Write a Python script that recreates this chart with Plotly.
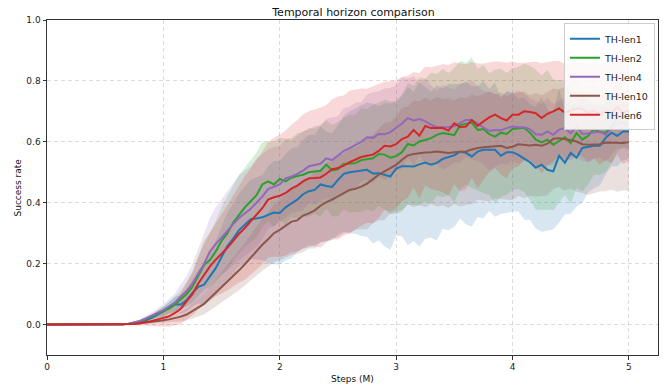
import plotly.graph_objects as go

steps = [round(i * 0.05, 2) for i in range(101)]

series_names = ["TH-len1", "TH-len2", "TH-len4", "TH-len10", "TH-len6"]

len1_mean = [0.0]*14 + [
    0.002, 0.004, 0.008, 0.014, 0.022, 0.032, 0.043, 0.056, 0.066, 0.066,
    0.080, 0.104, 0.124, 0.131, 0.158, 0.185, 0.222, 0.258, 0.282, 0.310,
    0.328, 0.346, 0.348, 0.352, 0.360, 0.368, 0.366, 0.385, 0.398, 0.410,
    0.428, 0.438, 0.442, 0.460, 0.455, 0.452, 0.475, 0.495, 0.500, 0.503,
    0.506, 0.508, 0.496, 0.497, 0.492, 0.486, 0.512, 0.520, 0.520, 0.519,
    0.526, 0.532, 0.525, 0.531, 0.544, 0.550, 0.556, 0.568, 0.564, 0.552,
    0.568, 0.574, 0.574, 0.574, 0.554, 0.566, 0.566, 0.557, 0.545, 0.533,
    0.515, 0.525, 0.508, 0.503, 0.554, 0.531, 0.564, 0.548, 0.580, 0.584,
    0.587, 0.587, 0.613, 0.630, 0.620, 0.634, 0.634]
len1_std = [0.0]*14 + [
    0.001, 0.002, 0.004, 0.006, 0.009, 0.012, 0.016, 0.020, 0.026, 0.030,
    0.036, 0.045, 0.055, 0.065, 0.075, 0.090, 0.100, 0.110, 0.115, 0.120,
    0.125, 0.130, 0.135, 0.140, 0.160, 0.170, 0.170, 0.175, 0.180, 0.172,
    0.178, 0.185, 0.180, 0.190, 0.180, 0.175, 0.180, 0.190, 0.200, 0.205,
    0.215, 0.220, 0.230, 0.220, 0.235, 0.240, 0.220, 0.230, 0.260, 0.245,
    0.270, 0.250, 0.240, 0.255, 0.230, 0.240, 0.235, 0.220, 0.235, 0.230,
    0.215, 0.225, 0.200, 0.220, 0.190, 0.200, 0.195, 0.185, 0.200, 0.190,
    0.200, 0.220, 0.200, 0.190, 0.220, 0.170, 0.200, 0.160, 0.180, 0.150,
    0.140, 0.130, 0.120, 0.110, 0.100, 0.095, 0.090]

len2_mean = [0.0]*14 + [
    0.003, 0.006, 0.011, 0.018, 0.026, 0.034, 0.042, 0.052, 0.066, 0.082,
    0.100, 0.124, 0.160, 0.196, 0.212, 0.240, 0.275, 0.300, 0.335, 0.362,
    0.385, 0.405, 0.425, 0.460, 0.470, 0.460, 0.478, 0.470, 0.482, 0.488,
    0.492, 0.500, 0.503, 0.505, 0.525, 0.506, 0.510, 0.528, 0.528, 0.530,
    0.540, 0.543, 0.546, 0.560, 0.558, 0.548, 0.553, 0.566, 0.593, 0.588,
    0.601, 0.606, 0.612, 0.623, 0.629, 0.626, 0.622, 0.655, 0.660, 0.663,
    0.639, 0.642, 0.625, 0.617, 0.630, 0.626, 0.642, 0.645, 0.646, 0.630,
    0.607, 0.598, 0.607, 0.590, 0.602, 0.615, 0.596, 0.629, 0.607, 0.620,
    0.642, 0.632, 0.630, 0.650, 0.678, 0.681, 0.681]
len2_std = [0.0]*14 + [
    0.001, 0.002, 0.004, 0.006, 0.009, 0.012, 0.016, 0.020, 0.025, 0.030,
    0.040, 0.050, 0.065, 0.080, 0.090, 0.100, 0.110, 0.120, 0.125, 0.130,
    0.130, 0.135, 0.140, 0.140, 0.130, 0.140, 0.135, 0.140, 0.130, 0.140,
    0.140, 0.145, 0.140, 0.150, 0.145, 0.150, 0.155, 0.150, 0.160, 0.160,
    0.170, 0.165, 0.175, 0.170, 0.180, 0.185, 0.180, 0.190, 0.200, 0.195,
    0.210, 0.200, 0.215, 0.200, 0.210, 0.200, 0.220, 0.210, 0.200, 0.215,
    0.200, 0.210, 0.200, 0.220, 0.210, 0.200, 0.200, 0.200, 0.210, 0.220,
    0.230, 0.220, 0.230, 0.215, 0.200, 0.190, 0.200, 0.180, 0.170, 0.160,
    0.150, 0.140, 0.130, 0.120, 0.110, 0.100, 0.100]

len4_mean = [0.0]*14 + [
    0.003, 0.007, 0.012, 0.020, 0.029, 0.038, 0.047, 0.060, 0.072, 0.092,
    0.110, 0.134, 0.168, 0.200, 0.240, 0.265, 0.285, 0.308, 0.330, 0.350,
    0.365, 0.380, 0.400, 0.420, 0.445, 0.453, 0.460, 0.480, 0.486, 0.495,
    0.505, 0.520, 0.523, 0.528, 0.546, 0.540, 0.555, 0.570, 0.579, 0.590,
    0.600, 0.615, 0.613, 0.626, 0.625, 0.632, 0.645, 0.660, 0.678, 0.670,
    0.675, 0.668, 0.656, 0.648, 0.648, 0.648, 0.652, 0.662, 0.672, 0.672,
    0.661, 0.647, 0.636, 0.639, 0.638, 0.645, 0.650, 0.648, 0.648, 0.642,
    0.625, 0.623, 0.634, 0.623, 0.640, 0.645, 0.628, 0.650, 0.626, 0.628,
    0.632, 0.634, 0.623, 0.645, 0.659, 0.663, 0.652]
len4_std = [0.0]*14 + [
    0.001, 0.003, 0.005, 0.008, 0.011, 0.015, 0.020, 0.025, 0.030, 0.040,
    0.050, 0.065, 0.080, 0.095, 0.110, 0.120, 0.125, 0.130, 0.135, 0.140,
    0.140, 0.140, 0.145, 0.140, 0.130, 0.130, 0.125, 0.130, 0.120, 0.125,
    0.130, 0.120, 0.130, 0.125, 0.130, 0.140, 0.130, 0.140, 0.135, 0.140,
    0.130, 0.140, 0.150, 0.140, 0.150, 0.145, 0.140, 0.150, 0.130, 0.145,
    0.120, 0.140, 0.130, 0.120, 0.140, 0.130, 0.120, 0.130, 0.120, 0.130,
    0.125, 0.120, 0.130, 0.120, 0.110, 0.120, 0.110, 0.120, 0.110, 0.100,
    0.110, 0.100, 0.110, 0.100, 0.095, 0.100, 0.090, 0.100, 0.090, 0.095,
    0.090, 0.085, 0.090, 0.085, 0.080, 0.085, 0.080]

len10_mean = [0.0]*14 + [
    0.001, 0.002, 0.004, 0.006, 0.008, 0.011, 0.014, 0.017, 0.021, 0.026,
    0.033, 0.044, 0.055, 0.068, 0.086, 0.104, 0.122, 0.140, 0.158, 0.178,
    0.198, 0.220, 0.240, 0.262, 0.280, 0.300, 0.311, 0.325, 0.338, 0.342,
    0.358, 0.365, 0.375, 0.390, 0.402, 0.410, 0.421, 0.430, 0.442, 0.446,
    0.453, 0.463, 0.478, 0.492, 0.503, 0.514, 0.524, 0.541, 0.555, 0.560,
    0.563, 0.565, 0.566, 0.568, 0.566, 0.563, 0.566, 0.568, 0.568, 0.575,
    0.580, 0.582, 0.584, 0.585, 0.587, 0.580, 0.584, 0.592, 0.590, 0.588,
    0.590, 0.587, 0.594, 0.610, 0.612, 0.610, 0.606, 0.601, 0.592, 0.590,
    0.590, 0.592, 0.598, 0.598, 0.596, 0.596, 0.599]
len10_std = [0.0]*14 + [
    0.001, 0.001, 0.002, 0.003, 0.004, 0.006, 0.008, 0.010, 0.013, 0.016,
    0.020, 0.025, 0.030, 0.035, 0.040, 0.045, 0.050, 0.055, 0.060, 0.065,
    0.070, 0.075, 0.080, 0.085, 0.090, 0.095, 0.100, 0.105, 0.110, 0.110,
    0.120, 0.115, 0.125, 0.120, 0.130, 0.125, 0.135, 0.130, 0.140, 0.135,
    0.140, 0.150, 0.145, 0.150, 0.160, 0.150, 0.160, 0.170, 0.160, 0.175,
    0.170, 0.180, 0.170, 0.180, 0.175, 0.180, 0.170, 0.180, 0.175, 0.180,
    0.170, 0.175, 0.180, 0.170, 0.175, 0.170, 0.175, 0.170, 0.175, 0.165,
    0.170, 0.165, 0.170, 0.165, 0.160, 0.170, 0.160, 0.165, 0.160, 0.165,
    0.160, 0.155, 0.160, 0.155, 0.160, 0.155, 0.160]

len6_mean = [0.0]*14 + [
    0.001, 0.002, 0.004, 0.007, 0.012, 0.017, 0.021, 0.027, 0.038, 0.052,
    0.077, 0.100, 0.135, 0.165, 0.191, 0.213, 0.232, 0.252, 0.275, 0.298,
    0.317, 0.338, 0.360, 0.382, 0.410, 0.418, 0.423, 0.432, 0.446, 0.456,
    0.470, 0.480, 0.481, 0.483, 0.495, 0.510, 0.514, 0.522, 0.533, 0.542,
    0.550, 0.554, 0.558, 0.570, 0.587, 0.585, 0.592, 0.609, 0.617, 0.639,
    0.620, 0.652, 0.645, 0.645, 0.645, 0.637, 0.661, 0.648, 0.650, 0.672,
    0.652, 0.667, 0.680, 0.689, 0.678, 0.670, 0.689, 0.689, 0.700, 0.698,
    0.694, 0.678, 0.692, 0.700, 0.710, 0.696, 0.702, 0.710, 0.707, 0.694,
    0.703, 0.689, 0.700, 0.694, 0.714, 0.696, 0.703]
len6_std = [0.0]*14 + [
    0.002, 0.004, 0.007, 0.011, 0.016, 0.022, 0.028, 0.034, 0.040, 0.050,
    0.060, 0.070, 0.085, 0.100, 0.110, 0.120, 0.130, 0.140, 0.150, 0.160,
    0.170, 0.175, 0.180, 0.185, 0.190, 0.195, 0.200, 0.205, 0.210, 0.215,
    0.220, 0.220, 0.225, 0.230, 0.225, 0.230, 0.235, 0.230, 0.235, 0.230,
    0.225, 0.220, 0.225, 0.220, 0.210, 0.215, 0.210, 0.205, 0.200, 0.190,
    0.205, 0.195, 0.200, 0.205, 0.210, 0.215, 0.200, 0.210, 0.205, 0.190,
    0.205, 0.190, 0.180, 0.175, 0.185, 0.190, 0.175, 0.170, 0.160, 0.165,
    0.170, 0.180, 0.170, 0.165, 0.155, 0.160, 0.155, 0.150, 0.155, 0.160,
    0.155, 0.165, 0.160, 0.165, 0.155, 0.170, 0.165]

series_means = [len1_mean, len2_mean, len4_mean, len10_mean, len6_mean]
series_stds = [len1_std, len2_std, len4_std, len10_std, len6_std]
colors = ["#1f77b4", "#2ca02c", "#9467bd", "#8c564b", "#d62728"]
fills = ["rgba(31,119,180,0.18)", "rgba(44,160,44,0.18)", "rgba(148,103,189,0.18)",
         "rgba(140,86,75,0.18)", "rgba(214,39,40,0.18)"]

fig = go.Figure()
# shaded bands first
for m, s, f in zip(series_means, series_stds, fills):
    lo = [a - b for a, b in zip(m, s)]
    hi = [a + b for a, b in zip(m, s)]
    fig.add_trace(go.Scatter(x=steps, y=lo, mode="lines", line=dict(width=0),
                             showlegend=False, hoverinfo="skip"))
    fig.add_trace(go.Scatter(x=steps, y=hi, mode="lines", line=dict(width=0),
                             fill="tonexty", fillcolor=f, showlegend=False, hoverinfo="skip"))
# mean lines on top
for name, m, c in zip(series_names, series_means, colors):
    fig.add_trace(go.Scatter(x=steps, y=m, mode="lines", name=name,
                             line=dict(color=c, width=2)))

axis_common = dict(
    showline=True, linecolor="#333333", linewidth=1, mirror=True,
    ticks="outside", ticklen=3.5, tickcolor="#333333", tickwidth=1,
    showgrid=True, gridcolor="rgba(190,190,190,0.55)", griddash="4px,3px", gridwidth=1,
    zeroline=False, automargin=False,
    tickfont=dict(family="DejaVu Sans", size=9, color="#222222"),
)

label_font = dict(family="DejaVu Sans", size=9, color="#111111")

fig.update_layout(
    width=665, height=388,
    margin=dict(l=47, r=7, t=20, b=33),
    paper_bgcolor="white", plot_bgcolor="white",
    title=dict(text="Temporal horizon comparison", x=0.5315, xanchor="center",
               y=0.978, yanchor="top",
               font=dict(family="DejaVu Sans", size=11, color="#111111")),
    xaxis=dict(range=[0, 5.25], tickvals=[0, 1, 2, 3, 4, 5], **axis_common),
    yaxis=dict(range=[-0.1, 1.0], tickvals=[0.0, 0.2, 0.4, 0.6, 0.8, 1.0], tickformat=".1f",
               **axis_common),
    legend=dict(x=0.995, y=0.99, xanchor="right", yanchor="top", traceorder="normal",
                bgcolor="rgba(255,255,255,0.85)", bordercolor="#cccccc", borderwidth=1,
                font=dict(family="DejaVu Sans", size=9.5, color="#222222"),
                tracegroupgap=0, itemwidth=30),
    showlegend=True,
    annotations=[
        dict(text="Steps (M)", xref="paper", yref="paper", x=0.5, y=0,
             xanchor="center", yanchor="middle", yshift=-24, showarrow=False,
             font=label_font),
        dict(text="Success rate", xref="paper", yref="paper", x=0, y=0.5,
             xanchor="center", yanchor="middle", xshift=-30, textangle=-90,
             showarrow=False, font=label_font),
    ],
)

fig.write_html("out.html", config={"displayModeBar": False},
               post_script="document.body.style.margin='0';document.body.style.padding='0';")
